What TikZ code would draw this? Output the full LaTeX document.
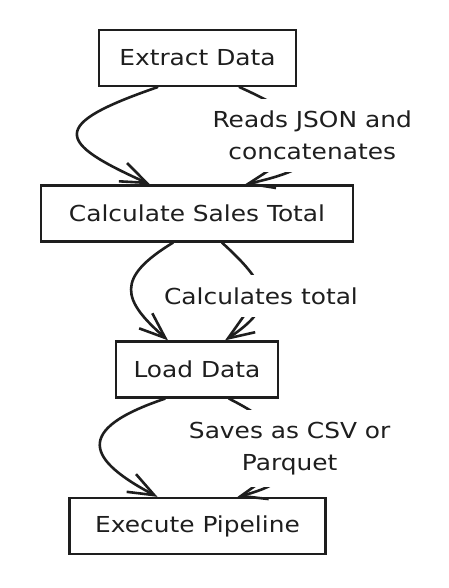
\documentclass[tikz,border=0pt]{standalone}
\usepackage{fontspec}
\setmainfont{DejaVu Sans}[FakeStretch=1.13]
\usepackage{tikz}
\usetikzlibrary{arrows.meta}
\definecolor{ink}{HTML}{1E1E1E}

\begin{document}
\begin{tikzpicture}[x=1pt, y=-1pt,
        every node/.style={font=\fontsize{22}{32}\selectfont, text=ink},
        box/.style={draw=ink, line width=2.3pt, minimum height=56pt, inner sep=0pt},
        flow/.style={draw=ink, line width=2.6pt, line cap=round,
            -{Straight Barb[length=26pt, width=20pt]}},
        note/.style={fill=white, align=center, inner xsep=8pt, inner ysep=12pt}]
    \useasboundingbox (0,0) rectangle (448,588);

    % Pipeline steps
    \node[box, minimum width=197pt] (extract) at (197.5, 58) {Extract Data};
    \node[box, minimum width=312pt] (calc) at (197, 213.5) {Calculate Sales Total};
    \node[box, minimum width=162pt] (load) at (197, 369.5) {Load Data};
    \node[box, minimum width=256pt] (execute) at (197.5, 526) {Execute Pipeline};

    % Plain flows (left)
    \draw[flow] ([xshift=-40pt]extract.south) .. controls (48,125) and (56,142) .. ([xshift=-47pt]calc.north);
    \draw[flow] ([xshift=-24pt]calc.south) .. controls (115,278) and (122,300) .. ([xshift=-29pt]load.north);
    \draw[flow] ([xshift=-32pt]load.south) .. controls (72,430) and (88,460) .. ([xshift=-40pt]execute.north);

    % Labelled flows (right)
    \draw[flow] ([xshift=42pt]extract.south) .. controls (297,113) and (374,157) .. ([xshift=48pt]calc.north)
        node[note, pos=.5] (readsnote) {Reads JSON and\\concatenates};
    \draw[flow] ([xshift=25pt]calc.south) .. controls (272,288) and (275,307) .. ([xshift=28pt]load.north)
        node[note, pos=.5] (totalnote) {Calculates total};
    \draw[flow] ([xshift=32pt]load.south) .. controls (284,426) and (333,472) .. ([xshift=40pt]execute.north)
        node[note, pos=.5] (savesnote) {Saves as CSV or\\Parquet};
\end{tikzpicture}
\end{document}
